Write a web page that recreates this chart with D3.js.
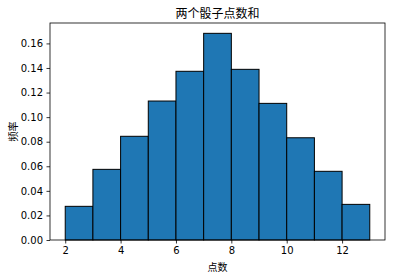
<!DOCTYPE html>
<html>
<head>
<meta charset="utf-8">
<script src="https://cdn.jsdelivr.net/npm/d3@7"></script>
<style>
  body { margin: 0; background: #fff; }
  .tick text { font-family: "DejaVu Sans", sans-serif; font-size: 10px; fill: #000; }
  .tick line { stroke: #000; stroke-width: 0.8; }
</style>
</head>
<body>
<div id="chart"></div>
<script>
// histogram data: sum of two dice, density per bin
var binStarts = [2, 3, 4, 5, 6, 7, 8, 9, 10, 11, 12];
var density = [0.0274, 0.0575, 0.0844, 0.1131, 0.1373, 0.1682, 0.1389, 0.1112, 0.0832, 0.0559, 0.0290];
var xTicks = [2, 4, 6, 8, 10, 12];
var yTicks = [0, 0.02, 0.04, 0.06, 0.08, 0.10, 0.12, 0.14, 0.16];
var titleText = "两个骰子点数和";
var xLabel = "点数";
var yLabel = "频率";

var width = 395, height = 278;
var margin = {left: 50, right: 10, top: 23, bottom: 38};

var svg = d3.select("#chart").append("svg")
    .attr("width", width)
    .attr("height", height);

var xMin = 2, xMax = 13, pad = (xMax - xMin) * 0.05;
var xScale = d3.scaleLinear().domain([xMin - pad, xMax + pad]).range([margin.left, width - margin.right]);
var yMax = d3.max(density) * 1.05;
var yScale = d3.scaleLinear().domain([0, yMax]).range([height - margin.bottom, margin.top]);

// bars
svg.selectAll("rect.bar")
    .data(binStarts)
    .enter()
    .append("rect")
    .attr("class", "bar")
    .attr("x", function(d) { return xScale(d); })
    .attr("width", function(d) { return xScale(d + 1) - xScale(d); })
    .attr("y", function(d, i) { return yScale(density[i]); })
    .attr("height", function(d, i) { return yScale(0) - yScale(density[i]); })
    .attr("fill", "#1f77b4")
    .attr("stroke", "#000")
    .attr("stroke-width", 1);

// axes
var xAxis = d3.axisBottom(xScale).tickValues(xTicks).tickSize(3.5).tickPadding(3.5).tickFormat(d3.format("d"));
var yAxis = d3.axisLeft(yScale).tickValues(yTicks).tickSize(3.5).tickPadding(3.5).tickFormat(d3.format(".2f"));

var gx = svg.append("g")
    .attr("transform", "translate(0," + (height - margin.bottom) + ")")
    .call(xAxis);
gx.select(".domain").remove();

var gy = svg.append("g")
    .attr("transform", "translate(" + margin.left + ",0)")
    .call(yAxis);
gy.select(".domain").remove();

// frame
svg.append("rect")
    .attr("x", margin.left)
    .attr("y", margin.top)
    .attr("width", width - margin.left - margin.right)
    .attr("height", height - margin.top - margin.bottom)
    .attr("fill", "none")
    .attr("stroke", "#000")
    .attr("stroke-width", 0.8);

// title and labels
svg.append("text")
    .attr("x", (margin.left + width - margin.right) / 2)
    .attr("y", 18)
    .attr("text-anchor", "middle")
    .style("font-family", "'Noto Sans CJK SC', sans-serif")
    .style("font-size", "12px")
    .text(titleText);

svg.append("text")
    .attr("x", (margin.left + width - margin.right) / 2)
    .attr("y", 271)
    .attr("text-anchor", "middle")
    .style("font-family", "'Noto Sans CJK SC', sans-serif")
    .style("font-size", "10px")
    .text(xLabel);

svg.append("text")
    .attr("transform", "translate(17," + ((margin.top + height - margin.bottom) / 2) + ") rotate(-90)")
    .attr("text-anchor", "middle")
    .style("font-family", "'Noto Sans CJK SC', sans-serif")
    .style("font-size", "10px")
    .text(yLabel);
</script>
</body>
</html>
